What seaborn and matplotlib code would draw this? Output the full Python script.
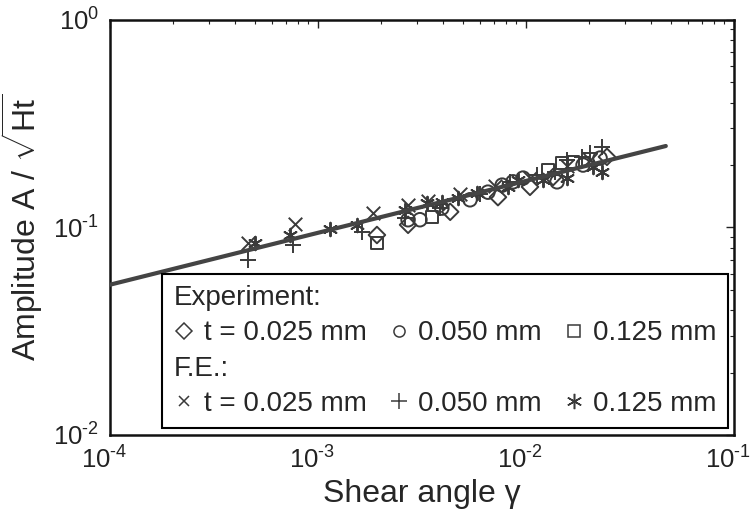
import numpy as np
import seaborn as sns
import matplotlib.pyplot as plt
from matplotlib.lines import Line2D
from matplotlib.transforms import ScaledTranslation
from matplotlib.ticker import LogLocator, FuncFormatter, NullFormatter

# experiment, t = 0.025 / 0.050 / 0.125 mm
exp_025_gamma = [1.92e-3, 2.71e-3, 4.32e-3, 7.33e-3, 1.045e-2, 1.35e-2, 2.45e-2]
exp_025_amp = [0.092, 0.103, 0.119, 0.140, 0.157, 0.175, 0.219]
exp_050_gamma = [2.71e-3, 3.09e-3, 3.94e-3, 5.38e-3, 6.56e-3, 7.68e-3, 8.66e-3, 9.68e-3, 1.41e-2, 1.88e-2, 2.27e-2]
exp_050_amp = [0.109, 0.109, 0.124, 0.136, 0.148, 0.160, 0.166, 0.173, 0.166, 0.200, 0.216]
exp_125_gamma = [1.92e-3, 3.53e-3, 1.28e-2, 1.49e-2, 1.68e-2]
exp_125_amp = [0.084, 0.112, 0.189, 0.205, 0.207]

# finite element results
fe_025_gamma = [4.61e-4, 7.74e-4, 1.84e-3, 2.71e-3, 3.38e-3, 4.82e-3, 7.10e-3, 1.045e-2, 1.57e-2, 2.03e-2]
fe_025_amp = [0.084, 0.104, 0.1175, 0.128, 0.134, 0.145, 0.158, 0.173, 0.198, 0.212]
fe_050_gamma = [4.61e-4, 7.59e-4, 1.63e-3, 2.62e-3, 3.86e-3, 6.01e-3, 8.38e-3, 1.13e-2, 1.38e-2, 1.57e-2, 1.86e-2, 2.03e-2, 2.32e-2]
fe_050_amp = [0.070, 0.082, 0.095, 0.111, 0.124, 0.145, 0.166, 0.179, 0.185, 0.212, 0.219, 0.229, 0.244]
fe_125_gamma = [4.98e-4, 7.33e-4, 1.14e-3, 1.54e-3, 2.62e-3, 3.34e-3, 3.94e-3, 4.71e-3, 5.81e-3, 8.18e-3, 9.16e-3, 1.21e-2, 1.57e-2, 2.10e-2, 2.32e-2]
fe_125_amp = [0.084, 0.092, 0.098, 0.103, 0.1215, 0.131, 0.133, 0.139, 0.147, 0.157, 0.169, 0.169, 0.173, 0.196, 0.185]

# power-law fit line
fit_gamma = [1.0e-4, 4.7e-2]
fit_amp = [0.053, 0.247]

sns.set_style("white")
plt.rcParams['font.family'] = ['Liberation Sans', 'DejaVu Sans']
plt.rcParams['mathtext.fontset'] = 'custom'
plt.rcParams['mathtext.rm'] = 'Liberation Sans'
plt.rcParams['mathtext.it'] = 'Liberation Sans:italic'
plt.rcParams['mathtext.bf'] = 'Liberation Sans:bold'

mc = '#3a3a3a'
lc = '#444444'
ms = 95
lw = 1.4
star = (6, 2, 0)

fig = plt.figure(figsize=(7.55, 5.22), dpi=100)
ax = fig.add_axes([0.1457, 0.1667, 0.8265, 0.795])

sns.scatterplot(x=exp_025_gamma, y=exp_025_amp, marker='D', s=ms * 0.75, facecolor='none', edgecolor=mc, linewidth=lw, ax=ax)
sns.scatterplot(x=exp_050_gamma, y=exp_050_amp, marker='o', s=ms, facecolor='none', edgecolor=mc, linewidth=lw, ax=ax)
sns.scatterplot(x=exp_125_gamma, y=exp_125_amp, marker='s', s=ms * 0.75, facecolor='none', edgecolor=mc, linewidth=lw, ax=ax)
sns.scatterplot(x=fe_025_gamma, y=fe_025_amp, marker='x', s=ms, color=mc, linewidth=lw, ax=ax)
sns.scatterplot(x=fe_050_gamma, y=fe_050_amp, marker='+', s=ms * 1.3, color=mc, linewidth=lw, ax=ax)
sns.scatterplot(x=fe_125_gamma, y=fe_125_amp, marker=star, s=ms, color=mc, linewidth=lw, ax=ax)
sns.lineplot(x=fit_gamma, y=fit_amp, color=lc, linewidth=3, ax=ax, zorder=3)


def decade(v, pos):
    k = int(round(np.log10(v)))
    if k < 0:
        return r'$10^{\text{-}%d}$' % (-k)
    return r'$10^{%d}$' % k


ax.set_xscale('log')
ax.set_yscale('log')
ax.set_xlim(1e-4, 1e-1)
ax.set_ylim(1e-2, 1)
ax.xaxis.set_major_locator(LogLocator(base=10, numticks=10))
ax.yaxis.set_major_locator(LogLocator(base=10, numticks=10))
ax.xaxis.set_minor_locator(LogLocator(base=10, subs=np.arange(2, 10), numticks=20))
ax.yaxis.set_minor_locator(LogLocator(base=10, subs=np.arange(2, 10), numticks=20))
ax.xaxis.set_major_formatter(FuncFormatter(decade))
ax.yaxis.set_major_formatter(FuncFormatter(decade))
ax.xaxis.set_minor_formatter(NullFormatter())
ax.yaxis.set_minor_formatter(NullFormatter())
ax.tick_params(which='both', direction='in', top=True, right=True, colors='#222222')
ax.tick_params(which='major', length=6, width=1, labelsize=18.5, pad=8)
ax.tick_params(which='minor', length=3, width=0.8)
for sp in ax.spines.values():
    sp.set_linewidth(1.8)
    sp.set_color('#111111')

# nudge x tick labels a little left so 10^-1 stays inside the figure
nudge = ScaledTranslation(-4 / 72, 0, fig.dpi_scale_trans)
for lab in ax.get_xticklabels():
    lab.set_transform(lab.get_transform() + nudge)

ax.set_xlabel('Shear angle γ', fontsize=23, labelpad=4)
ax.set_ylabel(r'Amplitude A / $\sqrt{\mathrm{Ht}}$', fontsize=23, labelpad=6)

# legend laid out as two header rows and two rows of three entries
blank = Line2D([], [], linestyle='none', marker='')
def mk(m, size=9, **kw):
    return Line2D([], [], linestyle='none', marker=m, markersize=size, color=mc,
                  markerfacecolor='none', markeredgecolor=mc, markeredgewidth=1.1, **kw)

handles = [blank, mk('D', 8), blank, mk('x', 7),
           blank, mk('o', 8), blank, mk('+', 11),
           blank, mk('s', 8), blank, mk(star, 11)]
labels = ['Experiment:', 't = 0.025 mm', 'F.E.:', 't = 0.025 mm',
          '', '0.050 mm', '', '0.050 mm',
          '', '0.125 mm', '', '0.125 mm']
hl, htp, fs = 0.8, 0.3, 20
leg = ax.legend(handles, labels, ncol=3, loc='lower right', bbox_to_anchor=(0.99, 0.017),
                borderaxespad=0, prop={'size': fs}, frameon=True, fancybox=False,
                edgecolor='black', framealpha=1, borderpad=0.4, labelspacing=0.33,
                columnspacing=0.75, handlelength=hl, handletextpad=htp)
leg.get_frame().set_linewidth(1.5)
shift = (hl + htp) * fs * fig.dpi / 72
for i in (0, 2):
    leg.get_texts()[i].set_x(-shift)

fig.savefig('out.png', dpi=100)
